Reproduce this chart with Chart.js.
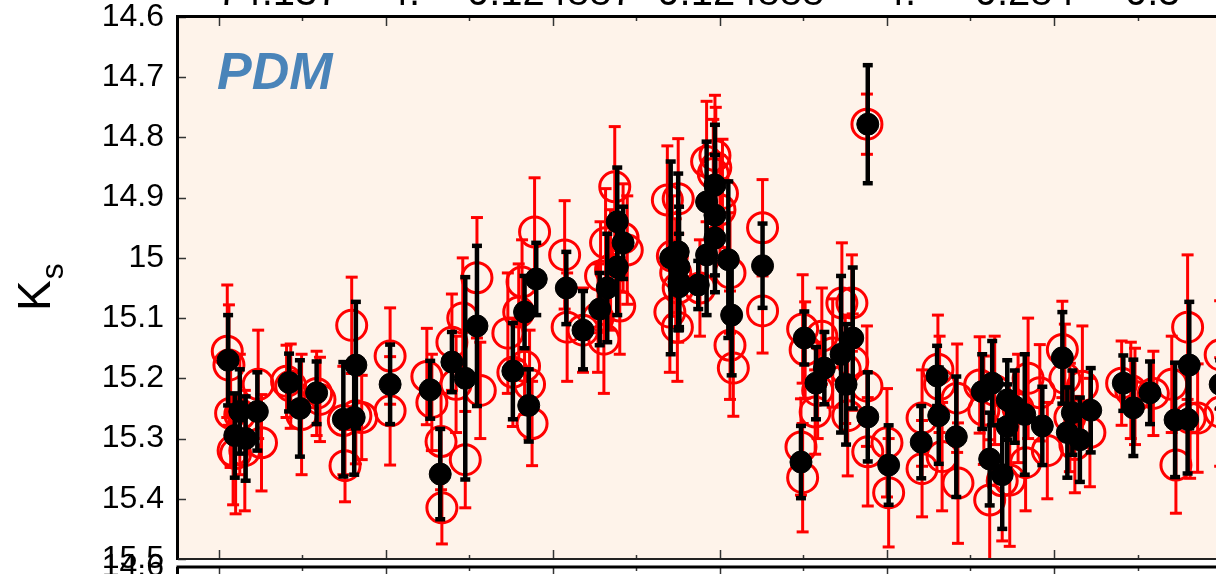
<!DOCTYPE html>
<html>
<head>
<meta charset="utf-8">
<script src="https://cdn.jsdelivr.net/npm/chart.js@4.4.0/dist/chart.umd.min.js"></script>
<style>
  html, body { margin: 0; padding: 0; background: #fff; }
  canvas { display: block; }
</style>
</head>
<body>
<canvas id="pdmChart" width="1216" height="574"></canvas>
<script>
const FONT = '"Liberation Sans", Arial, Helvetica, sans-serif';

// red open circles (phase, Ks, error)
const redX = [0.010, 0.012, 0.014, 0.025, 0.020, 0.031, 0.047, 0.051, 0.017,
  0.081, 0.086, 0.099, 0.117, 0.121,
  0.151, 0.159, 0.164, 0.171, 0.149,
  0.205, 0.205,
  0.249, 0.255, 0.266, 0.267, 0.279, 0.284, 0.292, 0.295, 0.309, 0.313,
  0.346, 0.352, 0.363, 0.366, 0.372, 0.375, 0.378, 0.359,
  0.414, 0.417, 0.436, 0.454, 0.457, 0.461, 0.463, 0.469, 0.474, 0.480, 0.484, 0.489,
  0.537, 0.550, 0.543, 0.547, 0.550, 0.540, 0.549, 0.576, 0.584, 0.594, 0.595, 0.592, 0.603, 0.600, 0.612, 0.612, 0.616, 0.651, 0.651,
  0.697, 0.699, 0.699, 0.702, 0.714, 0.717, 0.722, 0.735, 0.746, 0.750, 0.753, 0.758, 0.759, 0.776, 0.776, 0.777, 0.800, 0.802,
  0.842, 0.842, 0.861, 0.863, 0.866, 0.884, 0.885, 0.911, 0.916, 0.923, 0.929, 0.938, 0.947, 0.957, 0.966, 0.969, 0.983, 0.992,
  1.010, 1.013, 1.019, 1.025, 1.034, 1.043, 1.081, 1.092, 1.097, 1.119, 1.141, 1.146, 1.160, 1.163, 1.172, 1.199, 1.199];
const redY = [15.155, 15.178, 15.258, 15.26, 15.325, 15.32, 15.21, 15.307, 15.32,
  15.205, 15.213, 15.26, 15.225, 15.235,
  15.345, 15.112, 15.262, 15.265, 15.27,
  15.163, 15.254,
  15.197, 15.24, 15.305, 15.415, 15.14, 15.21, 15.1, 15.335, 15.033, 15.22,
  15.125, 15.19, 15.04, 15.18, 15.21, 15.275, 14.957, 15.09,
  14.995, 15.115, 15.12, 15.1, 15.03, 15.135, 14.975, 15.02, 14.882, 15.08, 14.967, 14.987,
  14.904, 14.902, 14.997, 15.025, 15.05, 15.09, 15.115, 15.05, 14.84, 14.83, 14.85, 14.86, 14.893, 14.92, 15.025, 15.145, 15.183, 14.95, 15.088,
  15.314, 15.365, 15.118, 15.153, 15.256, 15.22, 15.13, 15.158, 15.075, 15.185, 15.262, 15.075, 15.173, 14.778, 15.213, 15.322, 15.307, 15.39,
  15.266, 15.35, 15.185, 15.21, 15.33, 15.233, 15.374, 15.211, 15.253, 15.402, 15.22, 15.37, 15.369, 15.25, 15.34, 15.2, 15.224, 15.32,
  15.152, 15.2, 15.265, 15.31, 15.213, 15.29, 15.208, 15.22, 15.23, 15.225, 15.21, 15.344, 15.115, 15.266, 15.266, 15.161, 15.256];
const redErr = [0.11, 0.10, 0.09, 0.10, 0.10, 0.10, 0.09, 0.08, 0.09,
  0.06, 0.07, 0.10, 0.07, 0.07,
  0.06, 0.08, 0.08, 0.07, 0.09,
  0.08, 0.09,
  0.08, 0.08, 0.08, 0.06, 0.08, 0.08, 0.10, 0.08, 0.10, 0.08,
  0.10, 0.09, 0.07, 0.08, 0.09, 0.07, 0.09, 0.08,
  0.09, 0.09, 0.07, 0.09, 0.09, 0.09, 0.09, 0.10, 0.10, 0.08, 0.09, 0.09,
  0.09, 0.10, 0.10, 0.09, 0.09, 0.10, 0.09, 0.08, 0.10, 0.10, 0.10, 0.09, 0.09, 0.09, 0.10, 0.09, 0.08, 0.08, 0.07,
  0.08, 0.09, 0.09, 0.08, 0.07, 0.08, 0.08, 0.09, 0.10, 0.09, 0.10, 0.08, 0.08, 0.05, 0.10, 0.09, 0.09, 0.09,
  0.08, 0.08, 0.09, 0.08, 0.09, 0.09, 0.10, 0.08, 0.09, 0.10, 0.09, 0.10, 0.11, 0.09, 0.08, 0.10, 0.08, 0.08,
  0.08, 0.09, 0.09, 0.08, 0.10, 0.09, 0.07, 0.08, 0.08, 0.07, 0.08, 0.08, 0.12, 0.10, 0.09, 0.09, 0.09];

// black filled circles (phase, Ks, error)
const blackX = [0.011, 0.025, 0.019, 0.032, 0.046, 0.084, 0.097, 0.117, 0.149, 0.164, 0.162, 0.205,
  0.253, 0.265, 0.279, 0.295, 0.309, 0.352, 0.371, 0.366, 0.380,
  0.416, 0.436, 0.456, 0.465, 0.477, 0.484, 0.477,
  0.541, 0.550, 0.551, 0.551, 0.551, 0.574, 0.584, 0.584, 0.594, 0.594, 0.594, 0.610, 0.614, 0.651,
  0.777, 0.701, 0.697, 0.715, 0.725, 0.745, 0.751, 0.759, 0.777, 0.802,
  0.841, 0.860, 0.862, 0.883, 0.914, 0.926, 0.923, 0.938, 0.944, 0.944, 0.953, 0.965, 0.986,
  1.010, 1.016, 1.022, 1.031, 1.044, 1.083, 1.095, 1.115, 1.145, 1.162, 1.160, 1.199];
const blackY = [15.17, 15.255, 15.295, 15.30, 15.255, 15.207, 15.25, 15.224, 15.268, 15.178, 15.265, 15.21,
  15.219, 15.359, 15.173, 15.2, 15.113, 15.188, 15.245, 15.09, 15.035,
  15.05, 15.12, 15.085, 15.05, 14.94, 14.975, 15.015,
  15.0, 14.99, 15.015, 15.04, 15.048, 15.045, 14.907, 14.995, 14.879, 14.929, 14.967, 15.003, 15.095, 15.013,
  14.778, 15.133, 15.339, 15.208, 15.183, 15.16, 15.21, 15.133, 15.264, 15.344,
  15.306, 15.196, 15.262, 15.297, 15.222, 15.208, 15.334, 15.36, 15.236, 15.28, 15.247, 15.26, 15.279,
  15.166, 15.29, 15.257, 15.302, 15.253, 15.208, 15.249, 15.224, 15.269, 15.178, 15.268, 15.21];
const blackErr = [0.075, 0.07, 0.07, 0.07, 0.065, 0.048, 0.08, 0.052, 0.095, 0.105, 0.095, 0.066,
  0.048, 0.075, 0.05, 0.168, 0.133, 0.08, 0.06, 0.06, 0.06,
  0.06, 0.065, 0.06, 0.09, 0.09, 0.06, 0.08,
  0.16, 0.13, 0.10, 0.08, 0.07, 0.04, 0.10, 0.10, 0.10, 0.10, 0.09, 0.13, 0.10, 0.07,
  0.098, 0.044, 0.06, 0.06, 0.06, 0.13, 0.10, 0.117, 0.074, 0.066,
  0.06, 0.05, 0.08, 0.10, 0.062, 0.07, 0.077, 0.09, 0.066, 0.07, 0.06, 0.10, 0.065,
  0.076, 0.075, 0.07, 0.07, 0.07, 0.046, 0.08, 0.052, 0.095, 0.105, 0.09, 0.04];

const yTicks = [14.6, 14.7, 14.8, 14.9, 15.0, 15.1, 15.2, 15.3, 15.4, 15.5];
const yTickLabels = ['14.6', '14.7', '14.8', '14.9', '15', '15.1', '15.2', '15.3', '15.4', '15.5'];
const xTicks = [0, 0.1, 0.2, 0.3, 0.4, 0.5, 0.6, 0.7, 0.8, 0.9, 1.0, 1.1];

// labels of the panel above, only their bottom edge shows
const topLabels = ['74.137', '4.', '0.124887', '0.124888', '4.', '0.284', '0.5'];
const topLabelAt = [-0.002, 0.201, 0.297, 0.525, 0.795, 0.905, 1.085];

function points(xs, ys, es) {
  return xs.map((x, i) => ({ x: x, y: ys[i], err: es[i] }));
}

function seg(ctx, x1, y1, x2, y2) {
  ctx.beginPath();
  ctx.moveTo(x1, y1);
  ctx.lineTo(x2, y2);
  ctx.stroke();
}

// error bars, drawn just before each dataset's points
const errorBars = {
  id: 'errorBars',
  beforeDatasetDraw(chart, args) {
    const ds = chart.data.datasets[args.index];
    const xs = chart.scales.x, ys = chart.scales.y;
    const a = chart.chartArea;
    const ctx = chart.ctx;
    ctx.save();
    ctx.beginPath();
    ctx.rect(a.left, a.top, a.right - a.left, a.bottom - a.top);
    ctx.clip();
    ctx.strokeStyle = ds.barColor;
    ds.data.forEach(p => {
      const px = xs.getPixelForValue(p.x);
      const top = ys.getPixelForValue(p.y - p.err);
      const bot = ys.getPixelForValue(p.y + p.err);
      ctx.lineWidth = ds.barWidth;
      seg(ctx, px, top, px, bot);
      ctx.lineWidth = ds.capWidth;
      seg(ctx, px - ds.capHalf, top, px + ds.capHalf, top);
      seg(ctx, px - ds.capHalf, bot, px + ds.capHalf, bot);
    });
    ctx.restore();
  }
};

// background, frame, ticks and extra texts
const frame = {
  id: 'frame',
  beforeDraw(chart) {
    const a = chart.chartArea;
    const ctx = chart.ctx;
    ctx.save();
    ctx.fillStyle = '#fef3ea';
    ctx.fillRect(a.left, a.top, a.right - a.left, a.bottom - a.top);
    ctx.restore();
  },
  afterDraw(chart) {
    const a = chart.chartArea;
    const ctx = chart.ctx;
    const xs = chart.scales.x, ys = chart.scales.y;
    const lowTop = a.bottom + 8;
    ctx.save();

    // ticks
    ctx.strokeStyle = '#333';
    ctx.lineWidth = 1.5;
    xTicks.forEach((v, i) => {
      const px = Math.round(xs.getPixelForValue(v)) + 0.5;
      const len = i % 2 === 0 ? 9 : 4;
      seg(ctx, px, a.top, px, a.top + len);
      seg(ctx, px, a.bottom, px, a.bottom - len);
      seg(ctx, px, lowTop, px, lowTop + len);
    });
    yTicks.forEach(v => {
      const py = Math.round(ys.getPixelForValue(v)) + 0.5;
      seg(ctx, a.left, py, a.left + 8, py);
    });

    // frame lines
    ctx.strokeStyle = '#000';
    ctx.lineWidth = 3;
    seg(ctx, a.left - 1.5, a.top - 0.5, a.right, a.top - 0.5);
    seg(ctx, a.left - 0.5, a.top - 2, a.left - 0.5, a.bottom + 1);
    ctx.lineWidth = 2;
    ctx.strokeStyle = '#222';
    seg(ctx, a.left, a.bottom, a.right, a.bottom);
    ctx.lineWidth = 3;
    ctx.strokeStyle = '#000';
    seg(ctx, a.left - 1.5, lowTop, a.right, lowTop);
    seg(ctx, a.left - 0.5, lowTop, a.left - 0.5, chart.height);

    // tick label of the panel below
    ctx.fillStyle = '#000';
    ctx.font = '32px ' + FONT;
    ctx.textAlign = 'right';
    ctx.textBaseline = 'middle';
    ctx.fillText('14.6', a.left - 14, lowTop);

    // labels of the panel above
    ctx.font = '40px ' + FONT;
    ctx.textAlign = 'left';
    ctx.textBaseline = 'alphabetic';
    topLabels.forEach((t, i) => ctx.fillText(t, xs.getPixelForValue(topLabelAt[i]), 5));

    // PDM tag
    ctx.fillStyle = '#4a84b9';
    ctx.font = 'italic bold 52px ' + FONT;
    ctx.fillText('PDM', 217, 89);

    // axis title K_s
    ctx.fillStyle = '#000';
    ctx.translate(50, 311);
    ctx.rotate(-Math.PI / 2);
    ctx.font = '46px ' + FONT;
    ctx.fillText('K', 0, 0);
    const kw = ctx.measureText('K').width;
    ctx.font = '32px ' + FONT;
    ctx.fillText('s', kw + 1, 13);
    ctx.restore();
  }
};

const ctx = document.getElementById('pdmChart').getContext('2d');
const pdmChart = new Chart(ctx, {
  type: 'scatter',
  data: {
    datasets: [
      {
        label: 'red',
        order: 2,
        data: points(redX, redY, redErr),
        pointRadius: 15,
        pointBorderWidth: 3,
        pointBorderColor: '#ff0000',
        pointBackgroundColor: 'rgba(0,0,0,0)',
        barColor: '#ff0000', barWidth: 3, capWidth: 3, capHalf: 6
      },
      {
        label: 'black',
        order: 1,
        data: points(blackX, blackY, blackErr),
        pointRadius: 11,
        pointBorderWidth: 1,
        pointBorderColor: '#000',
        pointBackgroundColor: '#000',
        barColor: '#000', barWidth: 4.5, capWidth: 4.5, capHalf: 5
      }
    ]
  },
  options: {
    responsive: false,
    animation: false,
    devicePixelRatio: 1,
    events: [],
    layout: { autoPadding: false, padding: { top: 17, right: 0, bottom: 15, left: 0 } },
    plugins: {
      legend: { display: false },
      tooltip: { enabled: false }
    },
    scales: {
      x: {
        type: 'linear',
        display: false,
        min: -0.049,
        max: 1.194
      },
      y: {
        type: 'linear',
        reverse: true,
        min: 14.6,
        max: 15.5,
        afterBuildTicks: s => { s.ticks = yTicks.map(v => ({ value: v })); },
        afterFit: s => {
          s.width = 178;
          s.paddingTop = 0;
          s.paddingBottom = 0;
        },
        grid: { display: false, drawTicks: false },
        border: { display: false },
        ticks: {
          padding: 14,
          color: '#000',
          font: { family: FONT, size: 32, lineHeight: 1 },
          callback: (v, i) => yTickLabels[i]
        }
      }
    }
  },
  plugins: [errorBars, frame]
});
</script>
</body>
</html>
